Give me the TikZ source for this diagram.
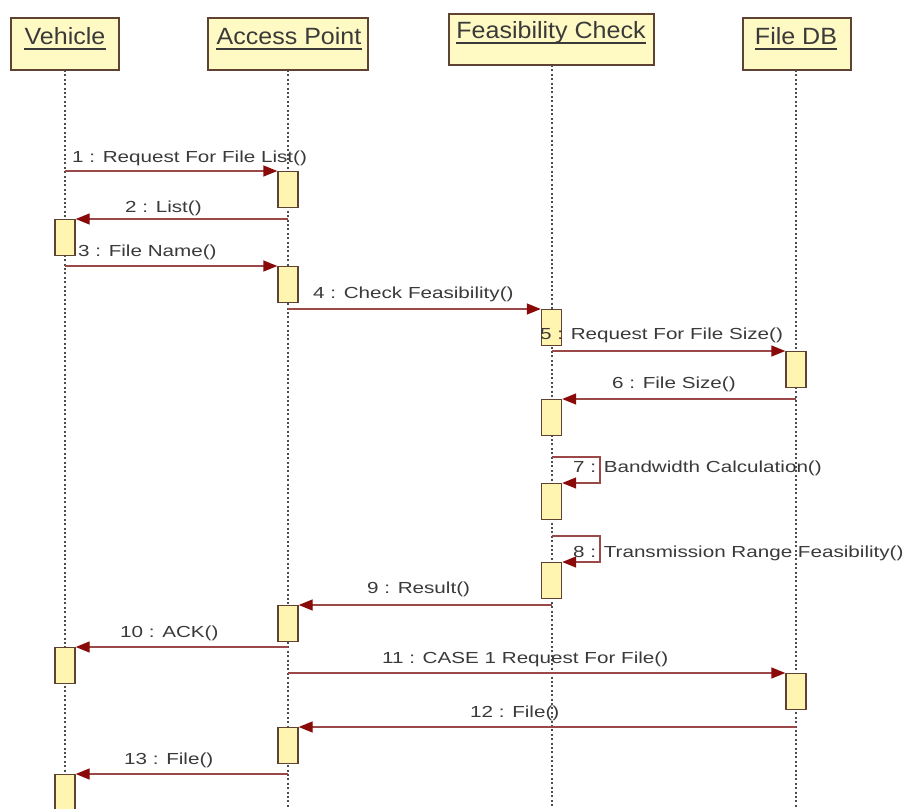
\documentclass[tikz,border=0pt]{standalone}
\usepackage{fontspec}
\setmainfont{Liberation Sans}
\newfontfamily\hdrfont{Liberation Sans}[FakeStretch=1.065]
\newfontfamily\lblfont{Liberation Sans}[FakeStretch=1.29]
\usetikzlibrary{arrows.meta}
\definecolor{boxfill}{HTML}{FFFAC4}
\definecolor{actfill}{HTML}{FFF4B0}
\definecolor{boxline}{HTML}{5E4232}
\definecolor{msgline}{HTML}{9A4848}
\definecolor{msghead}{HTML}{8A0A0A}
\definecolor{txt}{HTML}{3A3A3A}
\tikzset{
  header/.style={draw=boxline, line width=1.6pt, fill=boxfill, anchor=north west,
    inner sep=0pt},
  hdrtext/.style={text=txt, font=\hdrfont\fontsize{23.5}{26}\selectfont, anchor=base,
    inner sep=0pt},
  lifeline/.style={draw=black!70, line width=1.5pt, dash pattern=on 2pt off 2.4pt},
  act/.style={draw=boxline, line width=1.4pt, fill=actfill, minimum width=20pt,
    minimum height=36pt, inner sep=0pt, anchor=north},
  msg/.style={draw=msgline, line width=1.4pt,
    -{Triangle[length=14pt,width=11pt,fill=msghead,color=msghead]}},
  lbl/.style={text=txt, font=\lblfont\fontsize{16}{18}\selectfont, anchor=base west,
    inner sep=0pt},
}
\newcommand{\ulhdr}[3]{% name, position, text
  \node[hdrtext] (#1) at (#2) {#3};
  \draw[txt, line width=1.1pt] ([yshift=-5pt]#1.base west) -- ([yshift=-5pt]#1.base east);
}
\begin{document}
\begin{tikzpicture}[x=1pt,y=-1pt]
\useasboundingbox (0,0) rectangle (906,809);
\clip (0,0) rectangle (906,809);
\fill[white] (0,0) rectangle (906,809);

% object boxes
\node[header, minimum width=108pt, minimum height=52pt] (vb) at (10,17) {};
\node[header, minimum width=160pt, minimum height=52pt] (apb) at (207,17) {};
\node[header, minimum width=205pt, minimum height=51pt] (fcb) at (448,13) {};
\node[header, minimum width=108pt, minimum height=52pt] (dbb) at (742,17) {};

\ulhdr{vt}{65,44}{Vehicle}
\ulhdr{apt}{289,44}{Access Point}
\ulhdr{fct}{551,38}{Feasibility Check}
\ulhdr{dbt}{796,44}{File DB}

% lifeline anchors
\coordinate (vl) at (65,70);
\coordinate (apl) at (288,70);
\coordinate (fcl) at (552,65);
\coordinate (dbl) at (796,70);
\coordinate (vend) at (65,809);
\coordinate (apend) at (288,809);
\coordinate (fcend) at (552,809);
\coordinate (dbend) at (796,809);

\draw[lifeline] (vl) -- (vend);
\draw[lifeline] (apl) -- (apend);
\draw[lifeline] (fcl) -- (fcend);
\draw[lifeline] (dbl) -- (dbend);

% activations
\node[act] (a1) at (288,171) {};
\node[act] (a2) at (65,219) {};
\node[act] (a3) at (288,266) {};
\node[act] (a4) at (551.5,309) {};
\node[act] (a5) at (796,351) {};
\node[act] (a6) at (551.5,399) {};
\node[act] (a7) at (551.5,483) {};
\node[act] (a8) at (551.5,562) {};
\node[act] (a9) at (288,605) {};
\node[act] (a10) at (65,647) {};
\node[act] (a11) at (796,673) {};
\node[act] (a12) at (288,727) {};
\node[act] (a13) at (65,774) {};

% messages
\draw[msg] (vl |- a1.north) -- (a1.north west);
\draw[msg] (apl |- a2.north) -- (a2.north east);
\draw[msg] (vl |- a3.north) -- (a3.north west);
\draw[msg] (apl |- a4.north) -- (a4.north west);
\draw[msg] (fcl |- a5.north) -- (a5.north west);
\draw[msg] (dbl |- a6.north) -- (a6.north east);
\coordinate (s7) at (552,457);
\coordinate (s8) at (552,536);
\draw[msg] (s7) -- ++(48,0) |- (a7.north east);
\draw[msg] (s8) -- ++(48,0) |- (a8.north east);
\draw[msg] (fcl |- a9.north) -- (a9.north east);
\draw[msg] (apl |- a10.north) -- (a10.north east);
\draw[msg] (apl |- a11.north) -- (a11.north west);
\draw[msg] (dbl |- a12.north) -- (a12.north east);
\draw[msg] (apl |- a13.north) -- (a13.north east);

% message labels
\node[lbl] (m1) at (72,162) {1 : Request For File List()};
\node[lbl] (m2) at (125,212) {2 : List()};
\node[lbl] (m3) at (78,256) {3 : File Name()};
\node[lbl] (m4) at (313,298) {4 : Check Feasibility()};
\node[lbl] (m5) at (540,339) {5 : Request For File Size()};
\node[lbl] (m6) at (612,388) {6 : File Size()};
\node[lbl] (m7) at (573,472) {7 : Bandwidth Calculation()};
\node[lbl] (m8) at (573,557) {8 : Transmission Range Feasibility()};
\node[lbl] (m9) at (367,593) {9 : Result()};
\node[lbl] (m10) at (120,637) {10 : ACK()};
\node[lbl] (m11) at (382,663) {11 : CASE 1 Request For File()};
\node[lbl] (m12) at (470,717) {12 : File()};
\node[lbl] (m13) at (124,764) {13 : File()};
\end{tikzpicture}
\end{document}
